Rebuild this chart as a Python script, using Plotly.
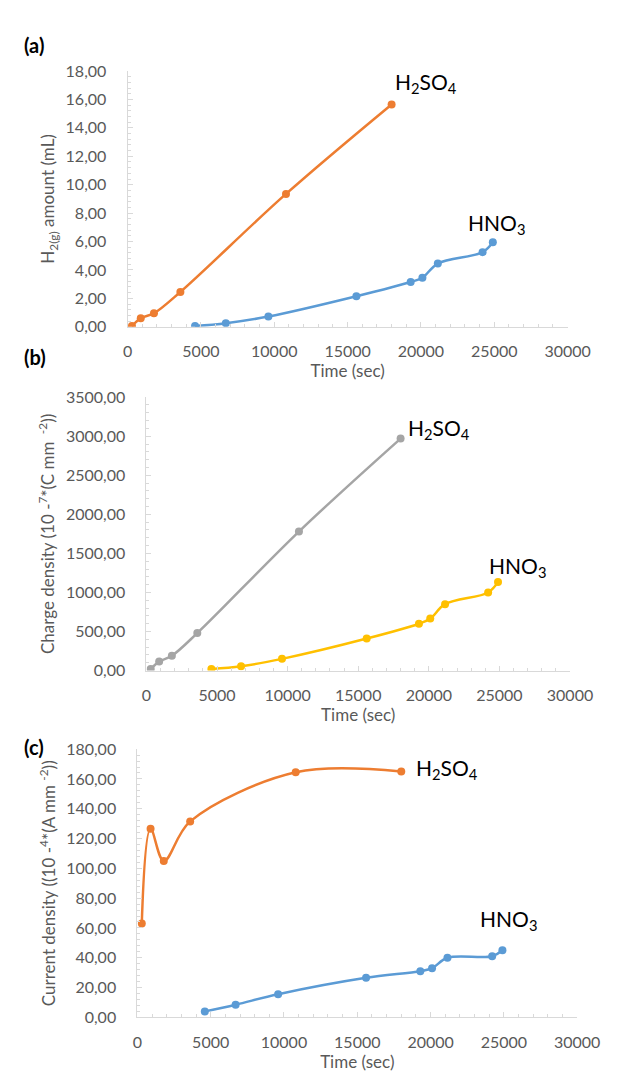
import plotly.graph_objects as go

# ---- data ----
t_h2so4 = [300, 900, 1800, 3600, 10800, 18000]
t_hno3 = [4600, 6700, 9600, 15600, 19300, 20100, 21150, 24200, 24900]

h2_h2so4 = [0.05, 0.6, 0.95, 2.45, 9.35, 15.65]
h2_hno3 = [0.05, 0.25, 0.72, 2.15, 3.15, 3.45, 4.45, 5.25, 5.95]

q_h2so4 = [20, 115, 190, 480, 1780, 2970]
q_hno3 = [20, 55, 150, 410, 600, 665, 850, 1000, 1135]

i_h2so4 = [63, 126.5, 105, 131.5, 164.5, 165]
i_hno3 = [4, 8.5, 15.5, 26.5, 31, 33, 40, 41, 45]

x_ticks = [0, 5000, 10000, 15000, 20000, 25000, 30000]

W, H = 617, 1076
FONT = "Lato"
AX = "#d9d9d9"
TXT = "#595959"
ORANGE = "#ED7D31"
BLUE = "#5B9BD5"
GRAY = "#A5A5A5"
YELLOW = "#FFC000"


def px_x(p):
    return p / W


def px_y(p):
    return 1 - p / H


fig = go.Figure()


def add(x, y, color, xa, ya):
    fig.add_trace(go.Scatter(
        x=x, y=y, mode="lines+markers", xaxis=xa, yaxis=ya,
        line=dict(color=color, width=2.5, shape="spline", smoothing=1),
        marker=dict(color=color, size=8), showlegend=False,
        hoverinfo="skip"))


add(t_h2so4, h2_h2so4, ORANGE, "x", "y")
add(t_hno3, h2_hno3, BLUE, "x", "y")
add(t_h2so4, q_h2so4, GRAY, "x2", "y2")
add(t_hno3, q_hno3, YELLOW, "x2", "y2")
add(t_h2so4, i_h2so4, ORANGE, "x3", "y3")
add(t_hno3, i_hno3, BLUE, "x3", "y3")


def xaxis(dom, anchor):
    return dict(
        domain=dom, anchor=anchor, range=[0, 30000], tickvals=x_ticks,
        tickformat="d", showgrid=False, zeroline=False, showline=True,
        linecolor=AX, linewidth=1, ticks="inside", ticklen=5,
        tickcolor=AX, tickfont=dict(family=FONT, size=16, color=TXT),
        ticklabelstandoff=10,
        minor=dict(dtick=1000, ticks="inside", ticklen=3, tickcolor=AX),
        title=dict(text="Time (sec)", font=dict(family=FONT, size=17, color=TXT),
                   standoff=6),
        fixedrange=True)


def yaxis(dom, anchor, rng, dt, title):
    return dict(
        domain=dom, anchor=anchor, range=rng, dtick=dt, tick0=0,
        tickformat=".2f", showgrid=False, zeroline=False, showline=True,
        linecolor=AX, linewidth=1, ticks="inside", ticklen=5,
        tickcolor=AX, tickfont=dict(family=FONT, size=16, color=TXT),
        ticklabelstandoff=17,
        minor=dict(dtick=dt / 5, ticks="inside", ticklen=3, tickcolor=AX),
        title=dict(text=title, font=dict(family=FONT, size=17, color=TXT),
                   standoff=6),
        fixedrange=True)


layout = dict(
    width=W, height=H, margin=dict(l=0, r=0, t=0, b=0),
    paper_bgcolor="white", plot_bgcolor="white", separators=",.",
    font=dict(family=FONT),
    xaxis=xaxis([px_x(120), px_x(581)], "y"),
    yaxis=yaxis([px_y(314.3), px_y(54)], "x", [0, 18], 2,
                "H<sub>2(g)</sub> amount (mL)"),
    xaxis2=xaxis([px_x(139.8), px_x(583.5)], "y2"),
    yaxis2=yaxis([px_y(664.3), px_y(386)], "x2", [0, 3500], 500,
                 "Charge density (10 -<sup>7</sup>*(C mm <sup> -2</sup>))"),
    xaxis3=xaxis([px_x(130.3), px_x(591)], "y3"),
    yaxis3=yaxis([px_y(1017.3), px_y(744.3)], "x3", [0, 180], 20,
                 "Current density ((10 -<sup>4</sup>*(A mm <sup>-2</sup>))"),
)
fig.update_layout(**layout)

ann = []


def label(text, x, y, size=21, bold=False, xanchor="left"):
    ann.append(dict(text=("<b>%s</b>" % text) if bold else text,
                    x=px_x(x), y=px_y(y), xref="paper", yref="paper",
                    xanchor=xanchor, yanchor="middle", showarrow=False,
                    font=dict(family=FONT, size=size, color="#000000")))


label("H<sub>2</sub>SO<sub>4</sub>", 398, 66)
label("HNO<sub>3</sub>", 475, 210)
label("H<sub>2</sub>SO<sub>4</sub>", 412, 418)
label("HNO<sub>3</sub>", 497, 559)
label("H<sub>2</sub>SO<sub>4</sub>", 420, 765)
label("HNO<sub>3</sub>", 487, 918)
label("(a)", 9, 27, size=20, bold=True)
label("(b)", 9, 345, size=20, bold=True)
label("(c)", 9, 742, size=20, bold=True)

fig.update_layout(annotations=ann)
fig.write_html("out.html")
